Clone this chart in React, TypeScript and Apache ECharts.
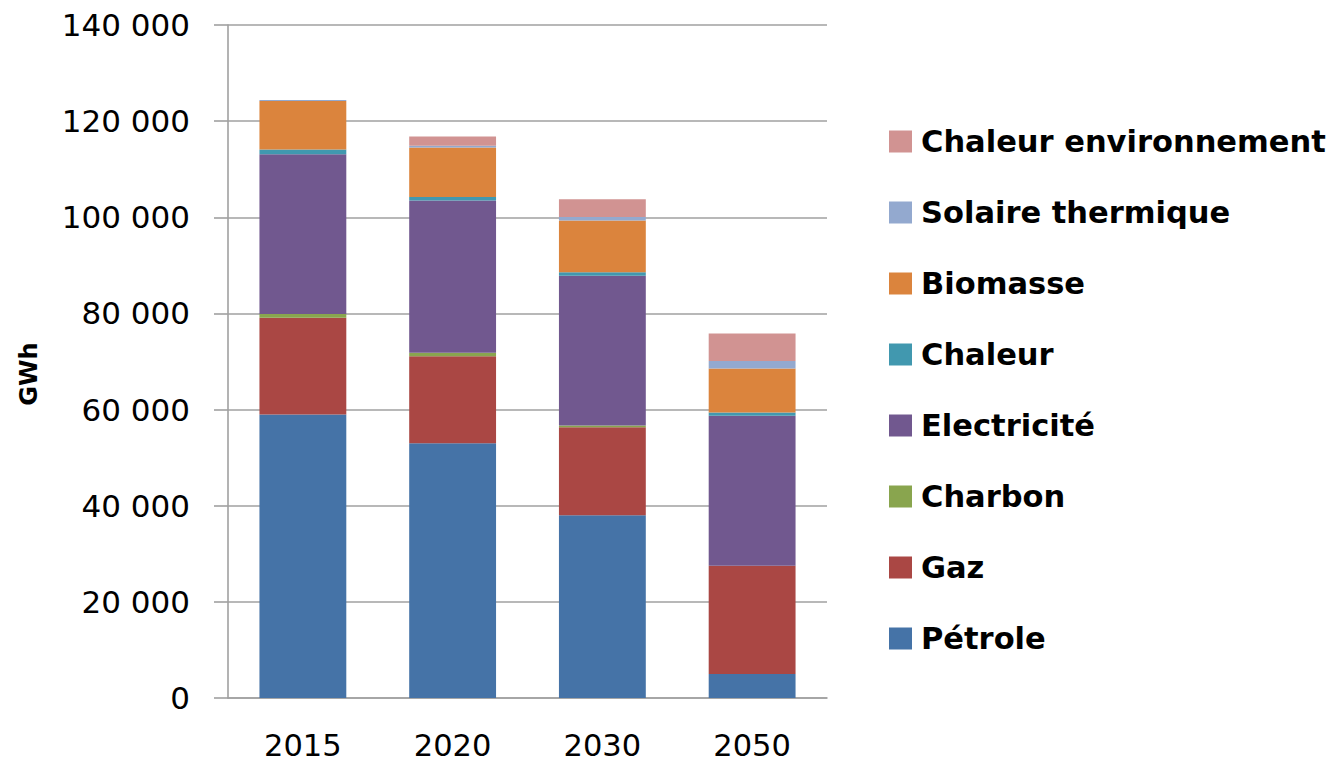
import React, { useEffect, useRef } from "react";
import * as echarts from "echarts";

const years = ["2015", "2020", "2030", "2050"];
const petrole = [59000, 53000, 38000, 5000];
const gaz = [20100, 18100, 18300, 22500];
const charbon = [800, 700, 400, 0];
const electricite = [33200, 31700, 31150, 31200];
const chaleur = [1000, 700, 700, 700];
const biomasse = [10100, 10300, 10800, 9150];
const solaire = [200, 400, 700, 1550];
const chaleurEnv = [0, 1900, 3700, 5700];

const seriesDefs = [
  { name: "Pétrole", data: petrole, color: "#4573A7" },
  { name: "Gaz", data: gaz, color: "#AA4744" },
  { name: "Charbon", data: charbon, color: "#89A54E" },
  { name: "Electricité", data: electricite, color: "#71588F" },
  { name: "Chaleur", data: chaleur, color: "#4198AF" },
  { name: "Biomasse", data: biomasse, color: "#DB843D" },
  { name: "Solaire thermique", data: solaire, color: "#93A9CF" },
  { name: "Chaleur environnement", data: chaleurEnv, color: "#D19392" },
];

const FONT = "'DejaVu Sans', sans-serif";

export default function App() {
  const ref = useRef<HTMLDivElement>(null);
  useEffect(() => {
    if (!ref.current) return;
    const chart = echarts.init(ref.current, null, { renderer: "svg" });
    chart.setOption({
      animation: false,
      backgroundColor: "#ffffff",
      grid: { left: 228, right: 505, top: 25, bottom: 65, containLabel: false },
      legend: {
        orient: "vertical",
        left: 889,
        top: 126,
        padding: 0,
        itemWidth: 23,
        itemHeight: 22,
        itemGap: 40,
        icon: "rect",
        data: seriesDefs.map((s) => s.name).reverse(),
        textStyle: {
          fontFamily: FONT,
          fontWeight: "bold",
          fontSize: 30.5,
          lineHeight: 30,
          color: "#000",
          padding: [0, 0, 0, 4],
        },
      },
      xAxis: {
        type: "category",
        data: years,
        axisLine: { lineStyle: { color: "#A0A0A0", width: 1.6 } },
        axisTick: { show: false },
        axisLabel: { fontFamily: FONT, fontSize: 30.5, color: "#000", margin: 32 },
      },
      yAxis: {
        type: "value",
        min: 0,
        max: 140000,
        interval: 20000,
        axisLine: { show: true, lineStyle: { color: "#A0A0A0", width: 1.6 } },
        axisTick: { show: true, length: 14, lineStyle: { color: "#A0A0A0", width: 1.6 } },
        splitLine: { lineStyle: { color: "#A0A0A0", width: 1.6 } },
        axisLabel: {
          fontFamily: FONT,
          fontSize: 31,
          color: "#000",
          margin: 38,
          formatter: (v: number) => String(v).replace(/\B(?=(\d{3})+(?!\d))/g, " "),
        },
      },
      graphic: [
        {
          type: "text",
          x: 29,
          y: 374,
          rotation: Math.PI / 2,
          style: {
            text: "GWh",
            font: `bold 24px ${FONT}`,
            fill: "#000",
            align: "center",
            verticalAlign: "middle",
          },
        },
      ],
      series: seriesDefs.map((s) => ({
        name: s.name,
        type: "bar",
        stack: "total",
        barCategoryGap: "42%",
        data: s.data,
        itemStyle: { color: s.color },
      })),
    });
    return () => chart.dispose();
  }, []);
  return (
    <div
      ref={ref}
      style={{ position: "fixed", left: 0, top: 0, width: 1332, height: 763 }}
    />
  );
}
